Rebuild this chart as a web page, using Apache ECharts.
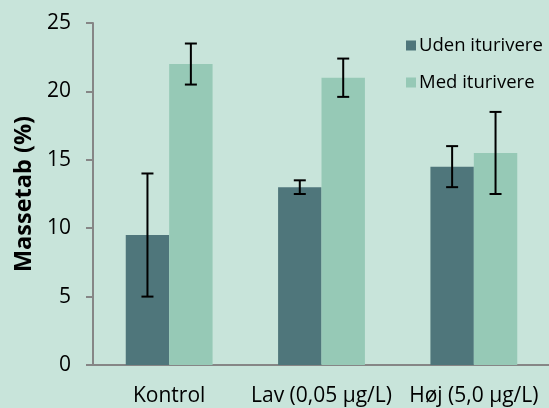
<!DOCTYPE html>
<html>
<head>
<meta charset="utf-8">
<style>
html,body{margin:0;padding:0;background:#c8e4da;}
#chart{width:549px;height:408px;}
</style>
<script src="https://cdn.jsdelivr.net/npm/echarts@6/dist/echarts.min.js"></script>
</head>
<body>
<div id="chart"></div>
<script>
const categories = ['Kontrol', 'Lav (0,05 µg/L)', 'Høj (5,0 µg/L)'];
const seriesNames = ['Uden iturivere', 'Med iturivere'];
const udenValues = [9.5, 13, 14.5];
const udenLow = [5, 12.5, 13];
const udenHigh = [14, 13.5, 16];
const medValues = [22, 21, 15.5];
const medLow = [20.5, 19.6, 12.5];
const medHigh = [23.5, 22.4, 18.5];
const yTicks = [0, 5, 10, 15, 20, 25];

const FONT = 'Open Sans';
const gapPct = 0.43;

function errData(low, high, side) {
  return categories.map((c, i) => [i, low[i], high[i], side]);
}

const errSeries = {
  type: 'custom',
  silent: true,
  z: 10,
  renderItem: function (params, api) {
    const cat = api.value(0);
    const side = api.value(3);
    const band = api.size([1, 0])[0];
    const off = band * (1 - gapPct) / 4 * side;
    const top = api.coord([cat, api.value(2)]);
    const bot = api.coord([cat, api.value(1)]);
    const x = top[0] + off;
    const cap = 6;
    const st = { stroke: '#000', lineWidth: 2 };
    return {
      type: 'group',
      children: [
        { type: 'line', shape: { x1: x, y1: top[1], x2: x, y2: bot[1] }, style: st },
        { type: 'line', shape: { x1: x - cap, y1: top[1], x2: x + cap, y2: top[1] }, style: st },
        { type: 'line', shape: { x1: x - cap, y1: bot[1], x2: x + cap, y2: bot[1] }, style: st }
      ]
    };
  }
};

const chart = echarts.init(document.getElementById('chart'), null, { renderer: 'canvas' });
chart.setOption({
  backgroundColor: '#c8e4da',
  animation: false,
  textStyle: { fontFamily: FONT },
  grid: { left: 93, right: -1, top: 23, bottom: 43, containLabel: false, outerBoundsMode: 'none' },
  legend: {
    data: seriesNames,
    orient: 'vertical',
    left: 401,
    top: 28,
    itemWidth: 10,
    itemHeight: 10,
    itemGap: 12,
    icon: 'rect',
    textStyle: { fontFamily: FONT, fontSize: 18.5, color: '#000', lineHeight: 25, padding: [0, 0, 0, -2] }
  },
  xAxis: {
    type: 'category',
    data: categories,
    axisLine: { lineStyle: { color: '#868686', width: 2 } },
    axisTick: { show: false },
    axisLabel: { color: '#000', fontFamily: FONT, fontSize: 21, margin: 21, interval: 0 }
  },
  yAxis: {
    type: 'value',
    min: 0, max: 25, interval: 5,
    name: 'Massetab (%)',
    nameLocation: 'middle',
    nameGap: 56,
    nameTextStyle: { fontFamily: FONT, fontSize: 23.5, fontWeight: 'bold', color: '#000' },
    axisLine: { show: true, lineStyle: { color: '#868686', width: 2 } },
    axisTick: { show: true, length: 7, lineStyle: { color: '#868686', width: 2 } },
    splitLine: { show: false },
    axisLabel: { color: '#000', fontFamily: FONT, fontSize: 21, margin: 22,
      formatter: v => yTicks.includes(v) ? String(v) : '' }
  },
  series: [
    { name: seriesNames[0], type: 'bar', data: udenValues, barGap: '0%', barCategoryGap: (gapPct * 100) + '%',
      itemStyle: { color: '#4f767b' } },
    { name: seriesNames[1], type: 'bar', data: medValues, barGap: '0%', barCategoryGap: (gapPct * 100) + '%',
      itemStyle: { color: '#96c9b6' } },
    Object.assign({}, errSeries, { name: 'err0', data: errData(udenLow, udenHigh, -1) }),
    Object.assign({}, errSeries, { name: 'err1', data: errData(medLow, medHigh, 1) })
  ]
});
</script>
</body>
</html>
